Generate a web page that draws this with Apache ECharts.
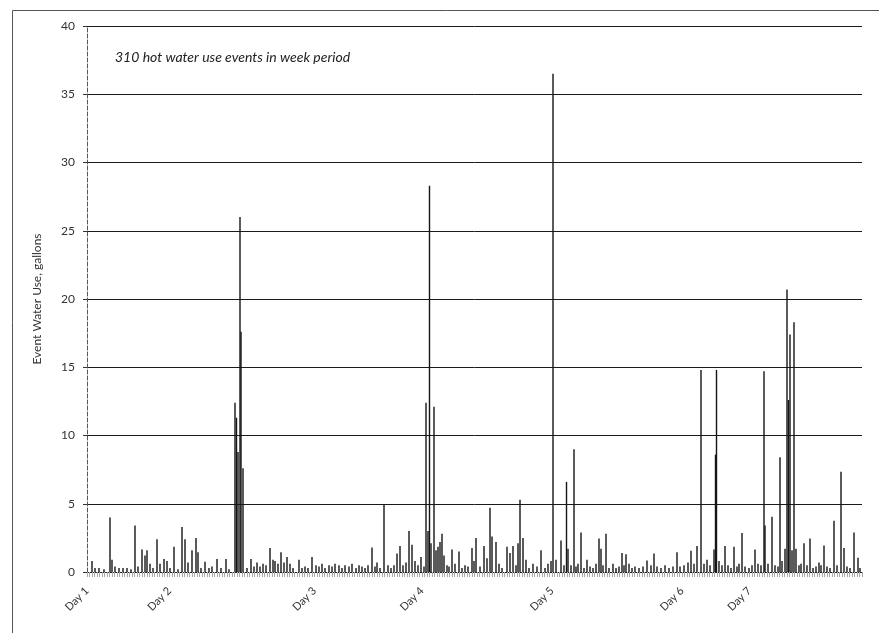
<!DOCTYPE html>
<html>
<head>
<meta charset="utf-8">
<script src="https://cdn.jsdelivr.net/npm/echarts@6/dist/echarts.min.js"></script>
<style>html,body{margin:0;padding:0;background:#fff}#c{width:879px;height:633px}</style>
</head>
<body>
<div id="c"></div>
<script>
// Event sequence position (0..310) of each drawn spike
const eventPos = [
 2.0,3.2,4.8,6.8,9.2,10.0,11.2,12.8,14.4,16.0,17.6,19.2,20.4,22.0,23.2,24.0,25.2,26.4,28.0,29.2,
 30.8,32.0,33.2,34.8,36.4,38.0,39.2,40.4,42.0,43.6,44.4,45.6,47.2,48.8,50.0,52.0,53.6,55.6,56.8,
 59.2,59.8,60.4,61.2,61.6,62.4,
 64.0,65.6,66.8,68.0,69.2,70.4,71.6,73.2,74.4,75.2,76.4,77.6,78.8,80.0,81.2,82.4,84.8,86.0,87.2,88.4,90.0,
 91.6,92.8,94.0,95.2,96.8,98.0,99.2,100.8,102.0,103.2,104.8,106.0,107.6,108.8,110.0,111.2,112.4,
 114.0,115.2,116.0,117.2,118.8,120.4,121.6,122.8,124.0,125.2,126.4,127.6,128.8,130.0,131.2,132.4,133.6,134.8,
 135.6,136.4,137.0,137.6,138.8,139.6,140.4,141.2,142.0,142.8,144.0,144.8,146.0,147.2,148.8,150.0,151.2,152.4,
 154.0,154.8,155.6,157.2,158.8,160.0,161.2,162.0,163.6,164.8,166.0,168.0,169.2,170.4,171.6,172.4,173.2,174.4,
 175.6,176.8,178.4,180.0,181.6,183.2,184.4,185.6,186.4,187.6,189.6,190.8,191.8,192.4,193.6,194.8,195.6,196.4,
 197.6,198.8,200.0,201.2,202.4,203.6,204.8,205.6,206.4,207.6,208.8,210.4,211.6,212.8,214.0,214.8,215.6,216.8,
 218.0,219.2,220.8,222.4,224.0,225.6,226.8,228.0,229.6,231.2,232.8,234.4,236.0,237.2,238.8,240.4,241.6,242.8,
 244.0,245.6,246.8,248.0,249.2,250.8,251.4,251.8,252.8,254.0,255.2,256.4,257.6,258.8,260.0,260.8,262.0,263.2,
 264.8,266.0,267.2,268.4,269.6,270.8,271.2,272.4,274.0,275.2,276.4,277.2,278.0,279.2,280.0,280.6,281.2,282.0,
 282.8,283.6,284.8,285.6,286.8,288.0,289.2,290.4,291.6,292.8,293.6,294.8,296.0,297.2,298.8,300.0,301.6,302.8,
 304.0,305.2,306.8,308.4,309.2
];
// Hot water used by each event, gallons
const eventGallons = [
 0.8,0.3,0.3,0.2,4.0,0.9,0.4,0.3,0.3,0.3,0.2,3.4,0.4,1.65,1.2,1.6,0.6,0.3,2.4,0.6,
 0.95,0.8,0.3,1.85,0.2,3.3,2.4,0.7,1.6,2.5,1.45,0.3,0.75,0.3,0.4,0.95,0.3,0.95,0.2,
 12.4,11.3,8.8,26.0,17.6,7.6,
 0.3,0.95,0.4,0.7,0.4,0.6,0.5,1.75,0.9,0.8,0.6,1.45,0.7,1.1,0.6,0.3,0.9,0.3,0.4,0.3,1.1,
 0.5,0.4,0.6,0.3,0.5,0.4,0.6,0.5,0.3,0.5,0.4,0.6,0.3,0.5,0.4,0.3,0.5,
 1.8,0.4,0.7,0.3,4.9,0.5,0.3,0.5,1.35,1.9,0.5,0.7,3.0,2.0,0.8,0.5,1.1,0.4,
 12.4,3.0,28.3,2.1,12.1,1.6,1.85,2.2,2.8,1.2,0.5,0.4,1.65,0.6,1.5,0.3,0.5,0.4,
 1.75,0.8,2.5,0.4,1.9,1.0,4.7,2.6,2.2,0.6,0.3,1.85,1.4,1.9,0.5,2.1,5.3,2.5,
 0.9,0.3,0.6,0.4,1.6,0.3,0.6,0.8,36.5,0.9,2.3,0.5,6.6,1.7,0.5,9.0,0.4,0.6,
 2.9,0.3,0.9,0.4,0.3,0.6,2.45,1.7,0.5,2.8,0.3,0.6,0.3,0.4,1.4,0.5,1.3,0.6,
 0.3,0.4,0.3,0.4,0.85,0.5,1.35,0.4,0.3,0.5,0.3,0.4,1.45,0.4,0.5,0.7,1.55,0.6,
 1.9,14.8,0.6,0.9,0.5,1.65,8.6,14.8,0.8,0.5,1.9,0.5,0.3,1.85,0.4,0.6,2.85,0.4,
 0.3,0.5,1.65,0.6,0.5,14.7,3.4,0.6,4.05,0.5,0.4,8.4,0.8,1.7,20.7,12.6,17.4,1.6,
 18.3,1.7,0.5,0.6,2.1,0.5,2.45,0.3,0.4,0.7,0.5,1.95,0.4,0.3,3.75,0.5,7.35,1.75,
 0.4,0.3,2.9,1.05,0.3
];
const dayNames = ['Day 1','Day 2','Day 3','Day 4','Day 5','Day 6','Day 7'];
const dayStartEvent = [0,33,91,134,186,238,265];
const yTicks = [0,5,10,15,20,25,30,35,40];
const chartTitle = '310 hot water use events in week period';
const yName = 'Event Water Use, gallons';

const seriesData = eventPos.map((p,i)=>[p, eventGallons[i]]);

const chart = echarts.init(document.getElementById('c'), null, {renderer:'canvas'});
chart.setOption({
  animation:false,
  backgroundColor:'#fff',
  grid:{left:87, right:17, top:26, bottom:61, containLabel:false},
  xAxis:{
    type:'value', min:0, max:310, interval:1,
    splitLine:{show:false},
    axisLine:{show:true, onZero:true, lineStyle:{color:'#222', width:1}},
    axisTick:{show:true, length:5, lineStyle:{color:'#aaa', width:1}},
    axisLabel:{
      show:true, rotate:45, margin:17,
      customValues: dayStartEvent,
      formatter:function(v){const k=dayStartEvent.indexOf(Math.round(v)); return (k>=0 && Math.abs(v-Math.round(v))<1e-6)?dayNames[k]:'';},
      fontFamily:'Lato', fontSize:11, color:'#333'
    }
  },
  yAxis:{
    type:'value', min:yTicks[0], max:yTicks[yTicks.length-1], interval:5,
    name:yName, nameLocation:'middle', nameGap:44, nameRotate:90,
    nameTextStyle:{fontFamily:'Lato', fontSize:12, color:'#333'},
    axisLine:{show:true, lineStyle:{color:'#555', width:1, type:'dashed'}},
    axisTick:{show:true, length:4, lineStyle:{color:'#333'}},
    axisLabel:{fontFamily:'Lato', fontSize:12, color:'#333', margin:12},
    splitLine:{show:true, lineStyle:{color:'#1a1a1a', width:1}}
  },
  series:[{
    type:'bar', data:seriesData, barWidth:1.4, barGap:'-100%',
    itemStyle:{color:'#151515'}, emphasis:{disabled:true}
  }],
  graphic:[
    {type:'rect', shape:{x:12.5, y:10.5, width:870, height:640}, style:{fill:'none', stroke:'#555', lineWidth:1}, silent:true, z:-1},
    {type:'text', x:115, y:57, style:{text:chartTitle, font:'italic 14px Lato', fill:'#222', textVerticalAlign:'middle'}, silent:true}
  ]
});
</script>
</body>
</html>
